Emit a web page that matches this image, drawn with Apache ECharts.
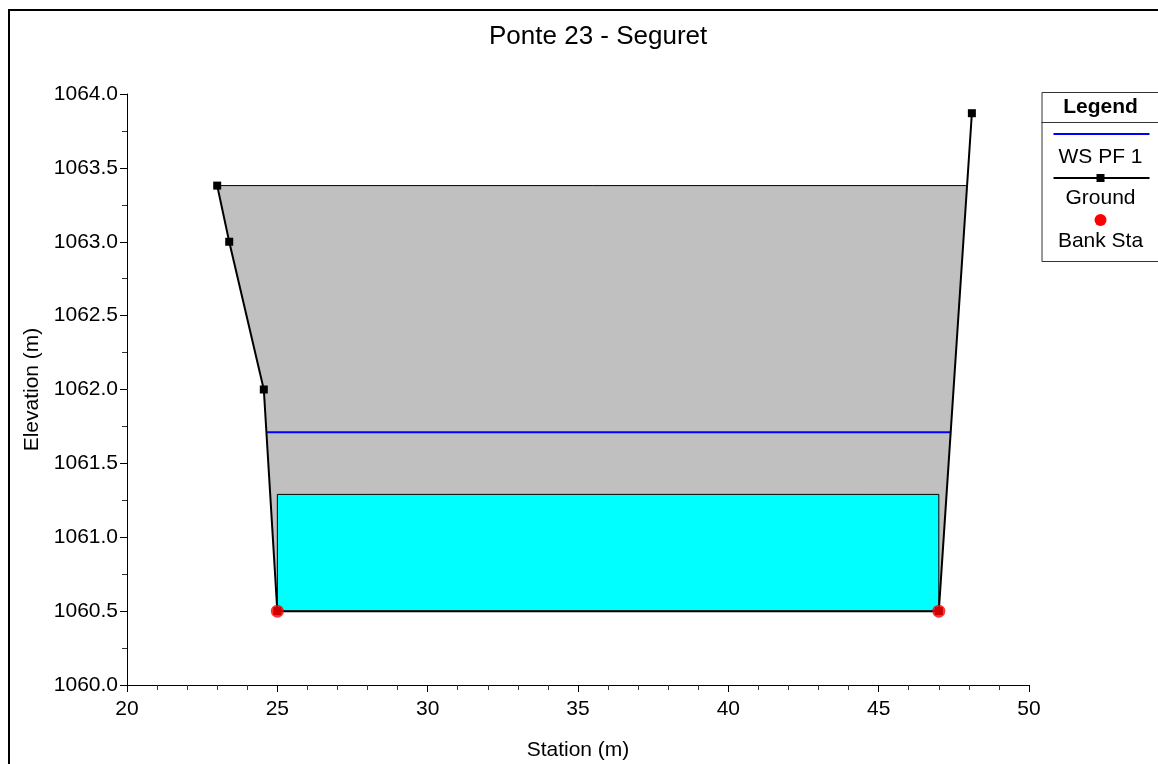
<!DOCTYPE html>
<html>
<head>
<meta charset="utf-8">
<script src="https://cdn.jsdelivr.net/npm/echarts@6/dist/echarts.min.js"></script>
<style>
html,body{margin:0;padding:0;background:#fff;}
#chart{width:1158px;height:764px;}
</style>
</head>
<body>
<div id="chart"></div>
<script>
// ---- Data ----
const titleText = 'Ponte 23 - Seguret';
const groundStations = [23.0, 23.4, 24.55, 25.0, 47.0, 48.1];
const groundElevations = [1063.38, 1063.0, 1062.0, 1060.5, 1060.5, 1063.87];
const bankStations = [25.0, 47.0];
const bankElevations = [1060.5, 1060.5];
const wsElevation = 1061.71;
const deckHighChord = 1063.38;
const openingStations = [25.0, 47.0];
const openingElevations = [1060.5, 1061.29];
const xAxisRange = [20, 50, 5];
const yAxisRange = [1060, 1064, 0.5];
const legendLabels = ['WS PF 1', 'Ground', 'Bank Sta'];

// crossings of a horizontal level with the ground line (left and right)
function crossings(level) {
  let xl = groundStations[0], xr = groundStations[groundStations.length - 1];
  for (let i = 0; i < groundStations.length - 1; i++) {
    const e0 = groundElevations[i], e1 = groundElevations[i + 1];
    if (e0 >= level && e1 < level) {
      const t = (e0 - level) / (e0 - e1);
      xl = groundStations[i] + t * (groundStations[i + 1] - groundStations[i]);
      break;
    }
  }
  for (let i = groundStations.length - 1; i > 0; i--) {
    const e1 = groundElevations[i], e0 = groundElevations[i - 1];
    if (e1 >= level && e0 < level) {
      const t = (level - e0) / (e1 - e0);
      xr = groundStations[i - 1] + t * (groundStations[i] - groundStations[i - 1]);
      break;
    }
  }
  return [xl, xr];
}

const deckX = crossings(deckHighChord);
const deckPts = [[deckX[0], deckHighChord]];
groundStations.forEach((s, i) => { if (s > deckX[0] && s < deckX[1]) deckPts.push([s, groundElevations[i]]); });
deckPts.push([deckX[1], deckHighChord]);

const wsX = crossings(wsElevation);
const groundData = groundStations.map((s, i) => [s, groundElevations[i]]);
const bankData = bankStations.map((s, i) => [s, bankElevations[i]]);
const wsData = [[wsX[0], wsElevation], [wsX[1], wsElevation]];

const FONT = 'Liberation Sans, Arial, sans-serif';
const chart = echarts.init(document.getElementById('chart'), null, {renderer: 'canvas'});

const option = {
  animation: false,
  backgroundColor: '#ffffff',
  title: {
    text: titleText,
    left: 484, top: 19,
    textStyle: {fontFamily: FONT, fontSize: 26, fontWeight: 'normal', color: '#000'}
  },
  grid: {left: 127, right: 129, top: 94, bottom: 79, containLabel: false, outerBoundsMode: 'none'},
  xAxis: {
    type: 'value', min: xAxisRange[0], max: xAxisRange[1], interval: xAxisRange[2],
    name: 'Station (m)', nameLocation: 'middle', nameGap: 55,
    nameTextStyle: {fontFamily: FONT, fontSize: 21, color: '#000'},
    axisLine: {show: true, onZero: false, lineStyle: {color: '#000', width: 1}},
    axisTick: {show: true, inside: false, length: 7, lineStyle: {color: '#000'}},
    minorTick: {show: true, splitNumber: 5, length: 5, lineStyle: {color: '#333'}},
    axisLabel: {fontFamily: FONT, fontSize: 21, color: '#000', margin: 14},
    splitLine: {show: false}
  },
  yAxis: {
    type: 'value', min: yAxisRange[0], max: yAxisRange[1], interval: yAxisRange[2],
    name: 'Elevation (m)', nameLocation: 'middle', nameGap: 81,
    nameTextStyle: {fontFamily: FONT, fontSize: 21, color: '#000'},
    axisLine: {show: true, onZero: false, lineStyle: {color: '#000', width: 1}},
    axisTick: {show: true, inside: false, length: 7, lineStyle: {color: '#000'}},
    minorTick: {show: true, splitNumber: 2, length: 5, lineStyle: {color: '#333'}},
    axisLabel: {fontFamily: FONT, fontSize: 21, color: '#000', margin: 9,
      padding: [3, 0, 0, 0],
      formatter: v => v.toFixed(1)},
    splitLine: {show: false}
  },
  series: [
    {
      type: 'custom', name: 'Deck', z: 1, silent: true,
      data: [deckPts[0]],
      renderItem: function (params, api) {
        const pts = deckPts.map(p => api.coord(p));
        const a = api.coord([deckX[0], deckHighChord]);
        const b = api.coord([deckX[1], deckHighChord]);
        return {
          type: 'group',
          children: [
            {type: 'polygon', shape: {points: pts}, style: {fill: '#C0C0C0', stroke: null}},
            {type: 'line', shape: {x1: a[0], y1: a[1], x2: b[0], y2: b[1]},
             style: {stroke: '#000', lineWidth: 1}}
          ]
        };
      }
    },
    {
      type: 'custom', name: 'Opening', z: 2, silent: true,
      data: [[openingStations[0], openingElevations[1]]],
      renderItem: function (params, api) {
        const tl = api.coord([openingStations[0], openingElevations[1]]);
        const br = api.coord([openingStations[1], openingElevations[0]]);
        return {
          type: 'rect',
          shape: {x: tl[0], y: tl[1], width: br[0] - tl[0], height: br[1] - tl[1]},
          style: {fill: '#00FFFF', stroke: '#000', lineWidth: 1}
        };
      }
    },
    {
      type: 'line', name: legendLabels[0], z: 3, data: wsData,
      symbol: 'none', lineStyle: {color: '#0000FF', width: 2}
    },
    {
      type: 'line', name: legendLabels[1], z: 4, data: groundData,
      symbol: 'rect', symbolSize: 8, showSymbol: true,
      itemStyle: {color: '#000'},
      lineStyle: {color: '#000', width: 2}
    },
    {
      type: 'scatter', name: legendLabels[2], z: 5, data: bankData,
      symbol: 'circle', symbolSize: 13, itemStyle: {color: '#FF0000'}
    }
  ],
  graphic: [
    {type: 'rect', z: 0, shape: {x: 9, y: 10, width: 1170, height: 780},
     style: {fill: null, stroke: '#000', lineWidth: 2}},
    {type: 'group', left: 1039, top: 92, z: 10, children: [
      {type: 'rect', shape: {x: 0.5, y: 0.5, width: 117, height: 169},
       style: {fill: '#fff', stroke: '#333', lineWidth: 1}},
      {type: 'line', shape: {x1: 0, y1: 30.5, x2: 118, y2: 30.5}, style: {stroke: '#333', lineWidth: 1}},
      {type: 'text', x: 59, y: 15, style: {text: 'Legend', font: 'bold 21px ' + FONT, fill: '#000', align: 'center', verticalAlign: 'middle'}},
      {type: 'line', shape: {x1: 12, y1: 42, x2: 108, y2: 42}, style: {stroke: '#0000FF', lineWidth: 2}},
      {type: 'text', x: 59, y: 65, style: {text: legendLabels[0], font: '21px ' + FONT, fill: '#000', align: 'center', verticalAlign: 'middle'}},
      {type: 'line', shape: {x1: 12, y1: 86, x2: 108, y2: 86}, style: {stroke: '#000', lineWidth: 2}},
      {type: 'rect', shape: {x: 55, y: 82, width: 8, height: 8}, style: {fill: '#000'}},
      {type: 'text', x: 59, y: 106, style: {text: legendLabels[1], font: '21px ' + FONT, fill: '#000', align: 'center', verticalAlign: 'middle'}},
      {type: 'circle', shape: {cx: 59, cy: 128, r: 6}, style: {fill: '#FF0000'}},
      {type: 'text', x: 59, y: 149, style: {text: legendLabels[2], font: '21px ' + FONT, fill: '#000', align: 'center', verticalAlign: 'middle'}}
    ]}
  ]
};
chart.setOption(option);
</script>
</body>
</html>
